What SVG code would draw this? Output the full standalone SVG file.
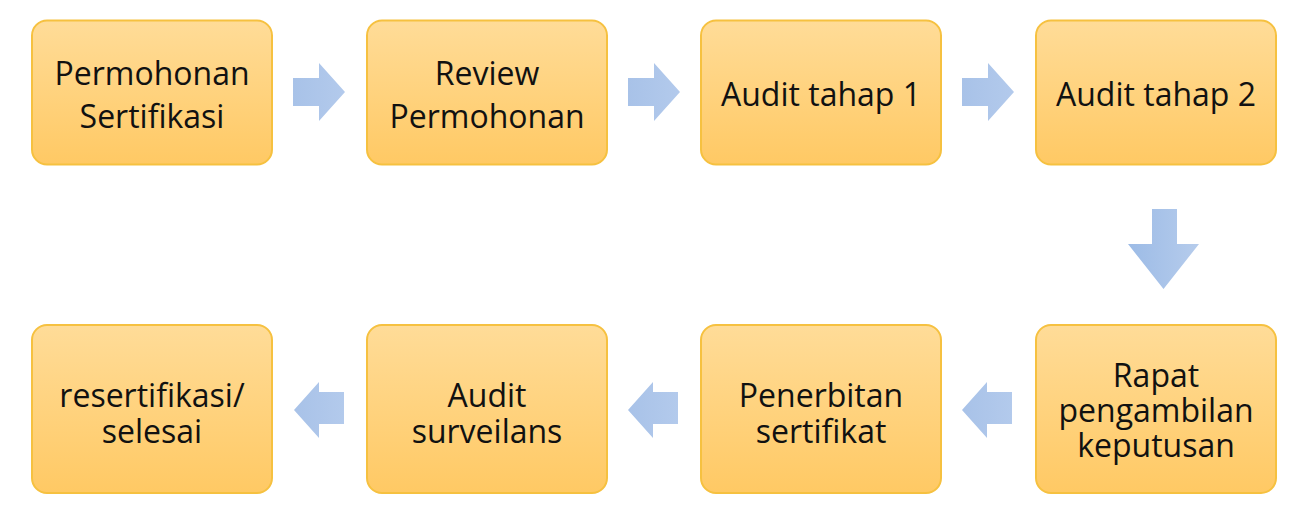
<svg xmlns="http://www.w3.org/2000/svg" width="1296" height="518" viewBox="0 0 1296 518">
  <defs>
    <linearGradient id="boxGrad" x1="0" y1="0" x2="0" y2="1">
      <stop offset="0" stop-color="#FFDC98"/>
      <stop offset="1" stop-color="#FFC964"/>
    </linearGradient>
    <linearGradient id="arrGradH" x1="0" y1="0" x2="1" y2="0">
      <stop offset="0" stop-color="#A8C2E8"/>
      <stop offset="1" stop-color="#B3CAEC"/>
    </linearGradient>
    <linearGradient id="arrGradV" x1="0" y1="0" x2="1" y2="0">
      <stop offset="0" stop-color="#9CBBE6"/>
      <stop offset="1" stop-color="#B6CCEC"/>
    </linearGradient>
  </defs>
  <style>
    .box { fill: url(#boxGrad); stroke: #F6C140; stroke-width: 2; }
    .lbl { font-family: "Open Sans", "Noto Sans", sans-serif; font-size: 32px; fill: #111111; text-anchor: middle; }
    .arr { fill: url(#arrGradH); }
    .arrv { fill: url(#arrGradV); }
  </style>
  <rect width="1296" height="518" fill="#FFFFFF"/>

  <g id="connectors">
    <path class="arr" d="M293,78 H319 V63 L345,92 L319,121 V106 H293 Z" transform="translate(0,0)"/>
    <path class="arr" d="M628,78 H654 V63 L680,92 L654,121 V106 H628 Z"/>
    <path class="arr" d="M962,78 H988 V63 L1014,92 L988,121 V106 H962 Z"/>
    <path class="arrv" d="M1152,209 H1177 V244 H1199 L1163.5,289 L1128,244 H1152 Z"/>
    <path class="arr" d="M344,392 V424 H319 V438 L294,410 L319,382 V392 Z"/>
    <path class="arr" d="M678,392 V424 H653 V438 L628,410 L653,382 V392 Z"/>
    <path class="arr" d="M1012,392 V424 H987 V438 L962,410 L987,382 V392 Z"/>
  </g>

  <g id="n1">
    <rect class="box" x="32" y="20.5" width="240" height="144" rx="15"/>
    <text class="lbl" x="152" y="85">Permohonan</text>
    <text class="lbl" x="152" y="128">Sertifikasi</text>
  </g>
  <g id="n2">
    <rect class="box" x="367" y="20.5" width="240" height="144" rx="15"/>
    <text class="lbl" x="487" y="85">Review</text>
    <text class="lbl" x="487" y="128">Permohonan</text>
  </g>
  <g id="n3">
    <rect class="box" x="701" y="20.5" width="240" height="144" rx="15"/>
    <text class="lbl" x="821" y="106">Audit tahap 1</text>
  </g>
  <g id="n4">
    <rect class="box" x="1036" y="20.5" width="240" height="144" rx="15"/>
    <text class="lbl" x="1156" y="106">Audit tahap 2</text>
  </g>
  <g id="n5">
    <rect class="box" x="1036" y="325" width="240" height="168" rx="15"/>
    <text class="lbl" x="1156" y="387">Rapat</text>
    <text class="lbl" x="1156" y="422">pengambilan</text>
    <text class="lbl" x="1156" y="457">keputusan</text>
  </g>
  <g id="n6">
    <rect class="box" x="701" y="325" width="240" height="168" rx="15"/>
    <text class="lbl" x="821" y="407">Penerbitan</text>
    <text class="lbl" x="821" y="443">sertifikat</text>
  </g>
  <g id="n7">
    <rect class="box" x="367" y="325" width="240" height="168" rx="15"/>
    <text class="lbl" x="487" y="407">Audit</text>
    <text class="lbl" x="487" y="443">surveilans</text>
  </g>
  <g id="n8">
    <rect class="box" x="32" y="325" width="240" height="168" rx="15"/>
    <text class="lbl" x="152" y="407">resertifikasi/</text>
    <text class="lbl" x="152" y="443">selesai</text>
  </g>
</svg>
